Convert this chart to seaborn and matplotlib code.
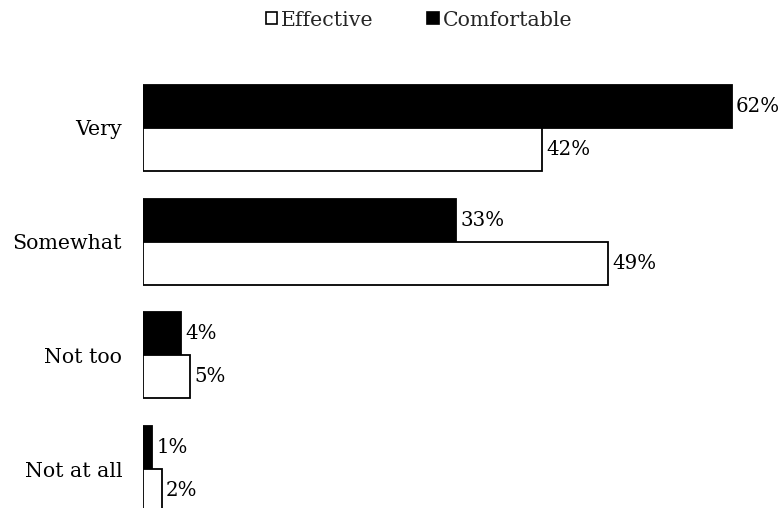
import matplotlib
matplotlib.use("Agg")
import matplotlib.pyplot as plt
from matplotlib.patches import Patch
import pandas as pd
import seaborn as sns

# Survey responses by level, for each question
levels = ["Very", "Somewhat", "Not too", "Not at all"]
comfortable = [62, 33, 4, 1]
effective = [42, 49, 5, 2]
series_order = ["Comfortable", "Effective"]
legend_order = ["Effective", "Comfortable"]
series_colors = {"Comfortable": "black", "Effective": "white"}

df = pd.DataFrame({
    "level": levels * 2,
    "series": ["Comfortable"] * len(levels) + ["Effective"] * len(levels),
    "value": comfortable + effective,
})

sns.set_theme(style="white")
plt.rcParams["font.family"] = ["DejaVu Serif"]

fig = plt.figure(figsize=(7.82, 5.08), dpi=100)
ax = fig.add_axes([143 / 782, 0, 639 / 782, 1])

sns.barplot(
    data=df, x="value", y="level", hue="series",
    order=levels, hue_order=series_order, palette=series_colors,
    orient="h", width=0.757, edgecolor="black", linewidth=1.3,
    legend=False, ax=ax,
)

for container in ax.containers:
    ax.bar_label(container, labels=[f"{v:.0f}%" for v in container.datavalues],
                 padding=3, fontsize=14.2, color="black")

ax.set_xlim(0, 67.3)
ax.set_ylim(3.343, -1.126)
ax.set_xlabel("")
ax.set_ylabel("")
ax.set_xticks([])
ax.tick_params(axis="y", length=0, pad=15, labelsize=14.8, labelcolor="black")
for side in ax.spines.values():
    side.set_visible(False)

handles = [Patch(facecolor=series_colors[s], edgecolor="black", linewidth=1.2)
           for s in legend_order]
fig.legend(handles, legend_order, loc="center", bbox_to_anchor=(419 / 782, 1 - 20 / 508),
           ncol=2, frameon=False, fontsize=14.8, handlelength=0.55, handleheight=0.55,
           handletextpad=0.2, columnspacing=2.6)

fig.savefig("out.png", dpi=100)
